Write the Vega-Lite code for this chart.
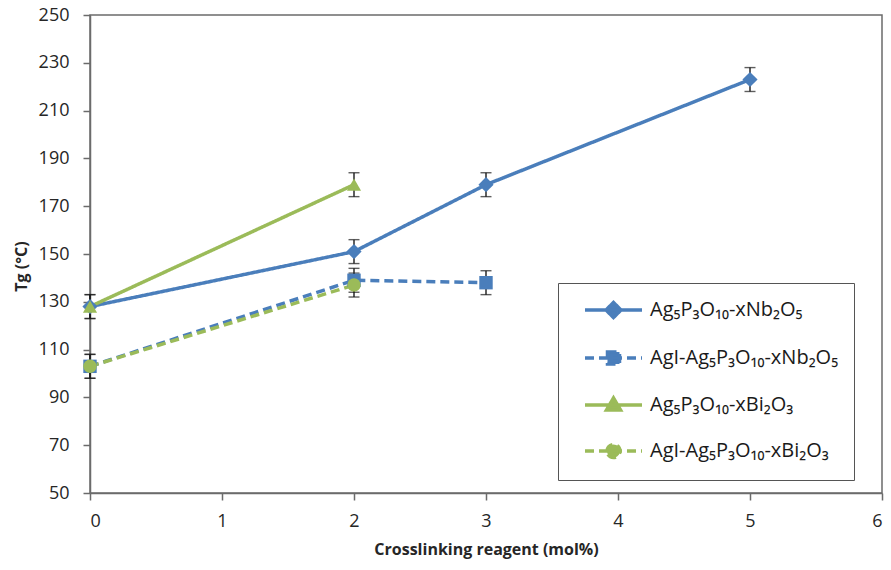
{
  "$schema": "https://vega.github.io/schema/vega-lite/v6.json",
  "width": 792,
  "height": 478,
  "autosize": "none",
  "padding": {"left": 90, "top": 15, "right": 9, "bottom": 77},
  "background": "white",
  "config": {
    "view": {"stroke": "#6b6b6b", "strokeWidth": 1.5},
    "font": "Open Sans",
    "axis": {
      "grid": false,
      "domainColor": "#6b6b6b",
      "domainWidth": 1.5,
      "tickColor": "#6b6b6b",
      "tickWidth": 1.5,
      "tickSize": 7,
      "labelFont": "Open Sans",
      "labelFontSize": 18,
      "labelColor": "#262626",
      "titleFont": "Open Sans",
      "titleFontSize": 16,
      "titleFontWeight": "bold",
      "titleColor": "#262626"
    }
  },
  "data": {
    "values": [
      {"series": "Ag₅P₃O₁₀-xNb₂O₅", "x": 0, "Tg": 128, "err": 5},
      {"series": "Ag₅P₃O₁₀-xNb₂O₅", "x": 2, "Tg": 151, "err": 5},
      {"series": "Ag₅P₃O₁₀-xNb₂O₅", "x": 3, "Tg": 179, "err": 5},
      {"series": "Ag₅P₃O₁₀-xNb₂O₅", "x": 5, "Tg": 223, "err": 5},
      {"series": "AgI-Ag₅P₃O₁₀-xNb₂O₅", "x": 0, "Tg": 103, "err": 5},
      {"series": "AgI-Ag₅P₃O₁₀-xNb₂O₅", "x": 2, "Tg": 139, "err": 5},
      {"series": "AgI-Ag₅P₃O₁₀-xNb₂O₅", "x": 3, "Tg": 138, "err": 5},
      {"series": "Ag₅P₃O₁₀-xBi₂O₃", "x": 0, "Tg": 128, "err": 5},
      {"series": "Ag₅P₃O₁₀-xBi₂O₃", "x": 2, "Tg": 179, "err": 5},
      {"series": "AgI-Ag₅P₃O₁₀-xBi₂O₃", "x": 0, "Tg": 103, "err": 5},
      {"series": "AgI-Ag₅P₃O₁₀-xBi₂O₃", "x": 2, "Tg": 137, "err": 5}
    ]
  },
  "encoding": {
    "x": {
      "field": "x", "type": "quantitative",
      "scale": {"domain": [0, 6], "nice": false, "zero": false},
      "axis": {"values": [0, 1, 2, 3, 4, 5, 6], "title": "Crosslinking reagent (mol%)", "labelPadding": 12, "titlePadding": 11}
    },
    "y": {
      "field": "Tg", "type": "quantitative",
      "scale": {"domain": [50, 250], "nice": false, "zero": false},
      "axis": {"values": [50, 70, 90, 110, 130, 150, 170, 190, 210, 230, 250], "title": "Tg (°C)", "labelPadding": 14, "titlePadding": 9, "titleY": 251}
    }
  },
  "layer": [
    {
      "mark": {"type": "line", "strokeWidth": 3.5},
      "encoding": {
        "color": {
          "field": "series", "type": "nominal",
          "scale": {
            "domain": ["Ag₅P₃O₁₀-xNb₂O₅", "AgI-Ag₅P₃O₁₀-xNb₂O₅", "Ag₅P₃O₁₀-xBi₂O₃", "AgI-Ag₅P₃O₁₀-xBi₂O₃"],
            "range": ["#4A7EBB", "#4A7EBB", "#9BBB59", "#9BBB59"]
          },
          "legend": {
            "orient": "none",
            "legendX": 468,
            "legendY": 268,
            "title": null,
            "strokeColor": "#555555",
            "fillColor": "white",
            "padding": 15,
            "symbolSize": 400,
            "symbolStrokeWidth": 3.5,
            "labelFont": "Open Sans",
            "labelFontSize": 20,
            "labelColor": "#1a1a1a",
            "labelOffset": 53,
            "labelLimit": 400,
            "rowPadding": 20,
            "encode": {
              "symbols": {
                "update": {
                  "shape": {"signal": "datum.index === 0 ? 'M0,0H5.7M2.85,-0.75L3.6,0L2.85,0.75L2.1,0Z' : datum.index === 1 ? 'M0,0H5.7M2.25,-0.6H3.45V0.6H2.25Z' : datum.index === 2 ? 'M0,0H5.7M2.85,-0.7L3.55,0.5H2.15Z' : 'M0,0H5.7M2.2,0A0.65,0.65,0,1,1,3.5,0A0.65,0.65,0,1,1,2.2,0Z'"},
                  "strokeDash": {"signal": "datum.index % 2 === 1 ? [9, 5] : [1, 0]"},
                  "fill": {"scale": "color", "field": "value"},
                  "stroke": {"scale": "color", "field": "value"},
                  "strokeWidth": {"value": 3.5},
                  "opacity": {"value": 1},
                  "fillOpacity": {"value": 1}
                }
              }
            }
          }
        },
        "strokeDash": {
          "field": "series", "type": "nominal",
          "scale": {
            "domain": ["Ag₅P₃O₁₀-xNb₂O₅", "AgI-Ag₅P₃O₁₀-xNb₂O₅", "Ag₅P₃O₁₀-xBi₂O₃", "AgI-Ag₅P₃O₁₀-xBi₂O₃"],
            "range": [[1, 0], [9, 5], [1, 0], [9, 5]]
          },
          "legend": null
        }
      }
    },
    {
      "mark": {"type": "errorbar", "ticks": {"size": 11, "thickness": 1.4}, "rule": {"strokeWidth": 1.4}, "color": "#1a1a1a"},
      "encoding": {
        "yError": {"field": "err"}
      }
    },
    {
      "transform": [{"filter": "datum.series === 'Ag₅P₃O₁₀-xNb₂O₅'"}],
      "mark": {"type": "point", "filled": true, "opacity": 1, "size": 230, "shape": "diamond", "color": "#4A7EBB"}
    },
    {
      "transform": [{"filter": "datum.series === 'AgI-Ag₅P₃O₁₀-xNb₂O₅'"}],
      "mark": {"type": "point", "filled": true, "opacity": 1, "size": 180, "shape": "square", "color": "#4A7EBB"}
    },
    {
      "transform": [{"filter": "datum.series === 'Ag₅P₃O₁₀-xBi₂O₃'"}],
      "mark": {"type": "point", "filled": true, "opacity": 1, "size": 200, "shape": "triangle-up", "color": "#9BBB59"}
    },
    {
      "transform": [{"filter": "datum.series === 'AgI-Ag₅P₃O₁₀-xBi₂O₃'"}],
      "mark": {"type": "point", "filled": true, "opacity": 1, "size": 180, "shape": "circle", "color": "#9BBB59"}
    }
  ]
}
